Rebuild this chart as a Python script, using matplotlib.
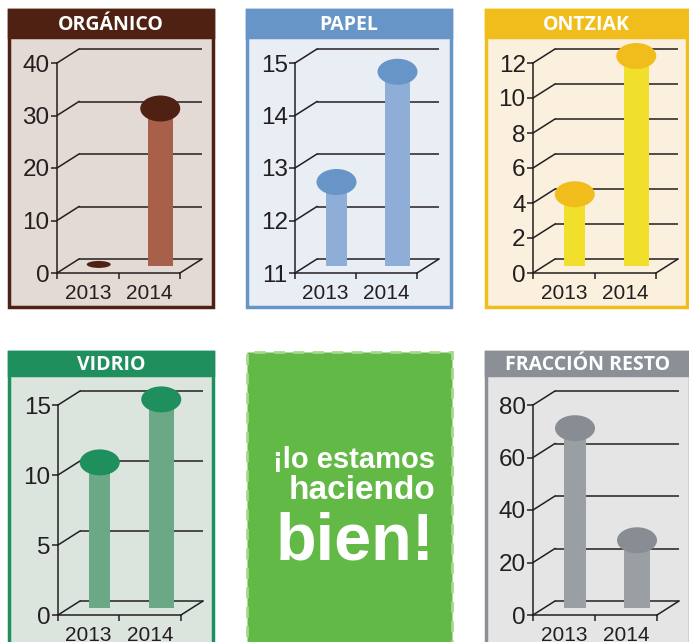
import matplotlib
matplotlib.use("Agg")
import matplotlib.pyplot as plt
from matplotlib.patches import Rectangle, Ellipse
from matplotlib.transforms import ScaledTranslation

# data
years = ["2013", "2014"]
organico = [0.3, 30.0]
papel = [12.6, 14.7]
ontziak = [4.1, 12.0]
vidrio = [10.4, 14.9]
resto = [68.5, 25.8]

organico_ticks = [0, 10, 20, 30, 40]
papel_ticks = [11, 12, 13, 14, 15]
ontziak_ticks = [0, 2, 4, 6, 8, 10, 12]
vidrio_ticks = [0, 5, 10, 15]
resto_ticks = [0, 20, 40, 60, 80]

slogan = ["¡lo estamos", "haciendo", "bien!"]

W, H = 689, 642
fig = plt.figure(figsize=(W / 100, H / 100), dpi=100)
fig.patch.set_facecolor("white")

LINE = "#231f20"
DX, DY = 0.22, 0.14  # depth of the fake 3d box, inches


def frect(x0, y0, x1, y1):
    # image pixels (y down) -> figure fraction rect
    return [x0 / W, 1 - y1 / H, (x1 - x0) / W, (y1 - y0) / H]


def panel(frame, header_h, axbox, title, vals, ticks, head, bg, bar, top):
    x0, y0, x1, y1 = frame
    # background + border (below the axes)
    fig.add_artist(Rectangle((x0 / W, 1 - y1 / H), (x1 - x0) / W, (y1 - y0) / H,
                             transform=fig.transFigure, facecolor=bg,
                             edgecolor=head, linewidth=2.5, zorder=-2))
    # header band
    fig.add_artist(Rectangle((x0 / W, 1 - (y0 + header_h) / H), (x1 - x0) / W, header_h / H,
                             transform=fig.transFigure, facecolor=head, edgecolor=head,
                             linewidth=2.5, zorder=-1))
    fig.text((x0 + x1) / 2 / W, 1 - (y0 + header_h / 2 + 1) / H, title,
             color="white", fontsize=14, fontweight="bold", family="Open Sans",
             ha="center", va="center")

    ax = fig.add_axes(frect(*axbox))
    ax.set_facecolor("none")
    ax.set_xlim(0, 2)
    ax.set_ylim(ticks[0], ticks[-1])
    for s in ["top", "right"]:
        ax.spines[s].set_visible(False)
    for s in ["left", "bottom"]:
        ax.spines[s].set_color(LINE)
        ax.spines[s].set_linewidth(1.1)

    back = ax.transData + ScaledTranslation(DX, DY, fig.dpi_scale_trans)
    mid = ax.transData + ScaledTranslation(DX / 2, DY / 2, fig.dpi_scale_trans)

    # back wall lines
    ax.hlines(ticks, 0, 2, colors=LINE, linewidth=1.1, transform=back, clip_on=False)
    # diagonals to the back wall
    for v in ticks:
        ax.plot([0, DX], [0, DY], color=LINE, linewidth=1.1, clip_on=False,
                transform=fig.dpi_scale_trans + ScaledTranslation(0, v, ax.transData))
    ax.plot([0, DX], [0, DY], color=LINE, linewidth=1.1, clip_on=False,
            transform=fig.dpi_scale_trans + ScaledTranslation(2, ticks[0], ax.transData))

    # columns with the round cap
    widths = [0.34, 0.41]
    for i, v in enumerate(vals):
        xc = i + 0.5
        ax.bar(xc, v - ticks[0], bottom=ticks[0], width=widths[i], color=bar,
               transform=mid, clip_on=False, zorder=3)
        ew, eh = (0.40, 0.26) if v - ticks[0] > 1 else (0.24, 0.07)
        ax.add_patch(Ellipse((0, 0), ew, eh, facecolor=top, edgecolor="none", zorder=4,
                             clip_on=False,
                             transform=fig.dpi_scale_trans + ScaledTranslation(xc, v, mid)))

    ax.set_yticks(ticks)
    ax.set_yticklabels([str(t) for t in ticks], family="Liberation Sans", fontsize=17.5,
                       color=LINE)
    ax.tick_params(axis="y", length=4.3, width=1.1, pad=1, color=LINE)
    ax.set_xticks([0, 1, 2])
    ax.set_xticklabels([])
    ax.tick_params(axis="x", which="major", length=4.3, width=1.1, color=LINE)
    ax.set_xticks([0.5, 1.5], minor=True)
    ax.set_xticklabels(years, minor=True, family="Liberation Sans", fontsize=15,
                       color=LINE)
    ax.tick_params(axis="x", which="minor", length=0, pad=8)
    return ax


panel((9, 10, 213, 307), 27, (57, 63, 180, 273), "ORGÁNICO", organico, organico_ticks,
      "#4e2112", "#e3d9d5", "#a8604a", "#4e2112")
panel((247, 10, 451, 307), 27, (295, 63, 417, 273), "PAPEL", papel, papel_ticks,
      "#6795c8", "#e9edf4", "#8eaed8", "#6795c8")
panel((486, 10, 687, 307), 27, (533, 63, 656, 273), "ONTZIAK", ontziak, ontziak_ticks,
      "#f1bd1d", "#fbf0de", "#f1e02b", "#f1bd1d")
panel((9, 352, 213, 660), 23, (58, 405, 181, 615), "VIDRIO", vidrio, vidrio_ticks,
      "#1f8f5d", "#dce4de", "#6aa886", "#1f8f5d")
panel((486, 352, 690, 660), 23, (533, 405, 657, 615), "FRACCIÓN RESTO", resto, resto_ticks,
      "#8a9096", "#e5e5e5", "#9a9fa3", "#878d93")

# green slogan box
fig.add_artist(Rectangle((247 / W, 1 - 660 / H), 205 / W, 308 / H, transform=fig.transFigure,
                         facecolor="#62b946", edgecolor="#a5d98c", linewidth=2,
                         linestyle=(0, (4, 3)), zorder=-1))
for txt, yb, fs in zip(slogan, [468, 499, 560], [21, 24, 48]):
    fig.text(435 / W, 1 - yb / H, txt, color="white", fontsize=fs, fontweight="bold",
             family="Liberation Sans", ha="right", va="baseline")

plt.savefig("out.png", dpi=100)
